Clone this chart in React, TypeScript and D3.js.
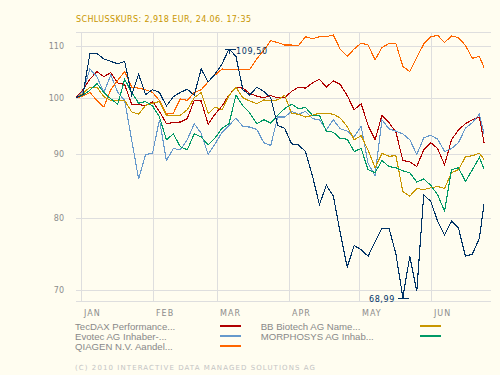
import React from "react";
import * as d3 from "d3";

const dates = [
  "2009-12-30", "2010-01-02", "2010-01-05", "2010-01-08", "2010-01-11", "2010-01-14", "2010-01-17", "2010-01-20",
  "2010-01-23", "2010-01-26", "2010-01-29", "2010-02-01", "2010-02-04", "2010-02-07", "2010-02-10", "2010-02-13",
  "2010-02-16", "2010-02-19", "2010-02-22", "2010-02-25", "2010-02-28", "2010-03-03", "2010-03-06", "2010-03-09",
  "2010-03-12", "2010-03-15", "2010-03-18", "2010-03-21", "2010-03-24", "2010-03-27", "2010-03-30", "2010-04-02",
  "2010-04-05", "2010-04-08", "2010-04-11", "2010-04-14", "2010-04-17", "2010-04-20", "2010-04-23", "2010-04-26",
  "2010-04-29", "2010-05-02", "2010-05-05", "2010-05-08", "2010-05-11", "2010-05-14", "2010-05-17", "2010-05-20",
  "2010-05-23", "2010-05-26", "2010-05-29", "2010-06-01", "2010-06-04", "2010-06-07", "2010-06-10", "2010-06-13",
  "2010-06-16", "2010-06-19", "2010-06-22", "2010-06-24",
];

const mainStock = [
  100, 100.6, 108.5, 108.6, 107.5, 107.0, 106.5, 107.0, 100.5, 104.5, 100.6, 101.5, 101.0, 98.5, 100.2, 101.0,
  101.6, 100.5, 105.5, 103.0, 104.5, 106.5, 109.5, 108.0, 101.5, 100.5, 102.0, 101.2, 100.0, 95.0, 94.5, 91.8,
  91.6, 90.5, 86.5, 82.0, 85.0, 83.3, 77.8, 73.0, 76.0, 75.4, 74.5, 76.5, 78.5, 78.5, 74.8, 68.99, 74.5, 69.8,
  83.5, 82.5, 79.5, 77.5, 79.5, 78.5, 74.5, 74.8, 77.0, 82.1,
];

const tecdax = [
  100, 101.5, 103.5, 105.0, 104.0, 104.8, 102.8, 102.5, 98.8, 98.8, 98.5, 99.3, 97.5, 95.3, 95.5, 95.6,
  96.2, 99.5, 99.4, 95.2, 97.0, 98.5, 100.5, 102.0, 101.8, 100.8, 100.3, 100.0, 100.4, 100.0, 100.0, 101.2,
  102.0, 101.8, 102.8, 103.5, 102.0, 103.2, 102.5, 100.4, 97.8, 98.9, 95.0, 92.5, 96.8, 95.5, 93.8, 89.0,
  88.8, 88.0, 90.8, 92.0, 91.0, 88.3, 92.5, 94.2, 95.3, 96.0, 96.5, 92.0,
];

const evotec = [
  100, 101.2, 105.5, 104.0, 101.0, 104.3, 101.0, 99.5, 92.5, 86.0, 90.0, 90.2, 96.0, 89.0, 91.0, 90.8,
  92.5, 95.3, 93.6, 90.0, 91.8, 93.8, 95.0, 96.3, 94.8, 94.7, 94.3, 92.0, 91.5, 96.5, 96.5, 97.5,
  97.0, 97.5, 96.2, 96.0, 94.2, 96.0, 94.4, 94.0, 93.0, 94.8, 88.5, 86.5, 96.0, 94.4, 94.0, 93.5,
  92.5, 90.0, 92.8, 93.3, 92.6, 90.5, 91.0, 92.0, 94.5, 95.5, 97.0, 93.5,
];

const qiagen = [
  100, 100.3, 101.0, 99.5, 98.3, 101.5, 103.3, 105.0, 102.0, 101.8, 101.5, 101.0, 99.5, 97.0, 97.2, 99.8,
  99.5, 101.0, 101.5, 103.0, 104.3, 105.5, 105.4, 105.4, 105.4, 105.4, 107.5, 109.2, 111.2, 110.8, 110.3, 110.3,
  110.2, 112.0, 111.6, 112.0, 112.0, 112.4, 109.4, 108.0, 109.5, 110.7, 110.3, 107.3, 109.8, 110.6, 110.6, 106.0,
  105.0, 107.8, 110.5, 112.0, 112.3, 110.8, 112.2, 111.8, 110.2, 107.6, 108.0, 105.8,
];

const bbBiotech = [
  100, 100.8, 102.0, 102.0, 100.2, 99.5, 99.5, 99.5, 97.4, 97.0, 98.6, 99.0, 99.3, 96.8, 96.8, 96.8,
  97.8, 100.0, 101.0, 97.1, 98.3, 97.8, 100.4, 102.0, 100.0, 99.4, 98.9, 99.6, 99.5, 99.6, 100.5, 97.1,
  97.0, 96.5, 96.8, 97.2, 97.1, 97.0, 96.3, 94.8, 92.5, 93.2, 90.7, 87.8, 90.2, 89.7, 89.8, 84.0,
  83.3, 84.5, 84.3, 84.6, 84.8, 84.5, 87.0, 87.5, 89.6, 89.8, 90.2, 89.2,
];

const morphosys = [
  100, 100.5, 101.4, 102.7, 101.0, 99.8, 98.8, 103.5, 101.0, 99.0, 99.3, 98.5, 96.5, 92.5, 93.5, 91.3,
  90.8, 93.5, 93.0, 91.6, 92.8, 94.5, 95.3, 100.5, 98.5, 97.2, 95.3, 96.0, 95.4, 96.8, 98.0, 98.8,
  98.0, 98.2, 96.8, 96.8, 94.0, 93.8, 92.7, 92.6, 90.5, 91.0, 87.5, 87.0, 89.0, 88.0, 87.8, 87.3,
  87.0, 85.5, 86.0, 85.0, 83.5, 81.0, 87.5, 87.8, 85.6, 87.5, 89.5, 87.6,
];

const yTicks = [70, 80, 90, 100, 110];
const monthStarts = ["2010-01-01", "2010-02-01", "2010-03-01", "2010-04-01", "2010-05-01", "2010-06-01"];
const monthLabels = ["JAN", "FEB", "MAR", "APR", "MAY", "JUN"];

const legendNames = [
  "TecDAX Performance...",
  "BB Biotech AG Name...",
  "Evotec AG Inhaber-...",
  "MORPHOSYS AG Inhab...",
  "QIAGEN N.V. Aandel...",
];
const legendColors = ["#b00000", "#c89600", "#6699cc", "#009966", "#ff6600"];
const legendSeries = [tecdax, bbBiotech, evotec, morphosys, qiagen];
const drawOrder = [0, 2, 4, 1, 3];

const mainColor = "#003366";
const titleText = "SCHLUSSKURS: 2,918 EUR, 24.06. 17:35";
const copyrightText = "(C) 2010 INTERACTIVE DATA MANAGED SOLUTIONS AG";

const parse = d3.timeParse("%Y-%m-%d");

export default function App() {
  const W = 500;
  const H = 375;
  const left = 76;
  const right = 491;
  const top = 32;
  const bottom = 301;

  const parsed = dates.map((d) => parse(d) as Date);
  const x = d3.scaleTime().domain([parsed[0], parsed[parsed.length - 1]]).range([76, 484]);
  const y = d3.scaleLog().domain([68.55, 113]).range([bottom, top]);

  const line = d3
    .line<number>()
    .x((_, i) => x(parsed[i]))
    .y((d) => y(d));

  const maxI = d3.maxIndex(mainStock);
  const minI = d3.minIndex(mainStock);
  const maxX = x(parsed[maxI]);
  const maxY = y(mainStock[maxI]);
  const minX = x(parsed[minI]);
  const minY = y(mainStock[minI]);
  const fmt = (v: number) => v.toFixed(2).replace(".", ",");

  const pixFont = "'DejaVu Sans', sans-serif";
  const grid = "#dedede";

  return (
    <svg
      width={W}
      height={H}
      style={{ position: "absolute", left: 0, top: 0, display: "block" }}
    >
      <rect x={0} y={0} width={W} height={H} fill="#fffdf0" />
      <text
        x={76}
        y={22}
        fontFamily={pixFont}
        fontSize={8}
        fill="#c89600"
        textLength={175}
        lengthAdjust="spacing"
      >
        {titleText}
      </text>

      {/* horizontal grid + frame */}
      <g shapeRendering="crispEdges" stroke={grid} strokeWidth={1}>
        <line x1={left} x2={right} y1={top + 0.5} y2={top + 0.5} />
        <line x1={left} x2={right} y1={bottom + 0.5} y2={bottom + 0.5} />
        {yTicks.map((t) => (
          <line key={t} x1={left} x2={right} y1={Math.round(y(t)) + 0.5} y2={Math.round(y(t)) + 0.5} />
        ))}
        {monthStarts.map((m) => {
          const gx = Math.round(x(parse(m) as Date)) + 0.5;
          return <line key={m} x1={gx} x2={gx} y1={top} y2={bottom + 1} />;
        })}
      </g>

      {yTicks.map((t) => (
        <text
          key={t}
          x={64}
          y={y(t)}
          dy="0.35em"
          textAnchor="end"
          fontFamily={pixFont}
          fontSize={8}
          fill="#8c8c8c"
        >
          {t}
        </text>
      ))}
      {monthStarts.map((m, i) => (
        <text
          key={m}
          x={Math.round(x(parse(m) as Date)) + 3}
          y={316}
          fontFamily={pixFont}
          fontSize={8}
          letterSpacing={1}
          fill="#8c8c8c"
        >
          {monthLabels[i]}
        </text>
      ))}

      {/* comparison series */}
      {drawOrder.map((i) => (
        <path
          key={legendNames[i]}
          d={line(legendSeries[i]) || ""}
          fill="none"
          stroke={legendColors[i]}
          strokeWidth={1.1}
          shapeRendering="crispEdges"
        />
      ))}
      <path
        d={line(mainStock) || ""}
        fill="none"
        stroke={mainColor}
        strokeWidth={1.1}
        shapeRendering="crispEdges"
      />

      {/* max marker */}
      <g stroke={mainColor} strokeWidth={1} shapeRendering="crispEdges">
        <line x1={maxX - 4} x2={maxX + 7} y1={Math.round(maxY) + 0.5} y2={Math.round(maxY) + 0.5} />
        <line x1={Math.round(maxX) + 0.5} x2={Math.round(maxX) + 0.5} y1={maxY} y2={maxY + 5} />
        <line x1={minX - 5} x2={minX + 6} y1={Math.round(minY) + 0.5} y2={Math.round(minY) + 0.5} />
        <line x1={Math.round(minX) + 0.5} x2={Math.round(minX) + 0.5} y1={minY - 6} y2={minY} />
      </g>
      <text x={maxX + 7} y={maxY + 5} fontFamily={pixFont} fontSize={8} letterSpacing={0.6} fill={mainColor}>
        {fmt(mainStock[maxI])}
      </text>
      <text
        x={minX - 8}
        y={minY + 4.5}
        textAnchor="end"
        fontFamily={pixFont}
        fontSize={8}
        letterSpacing={0.6}
        fill={mainColor}
      >
        {fmt(mainStock[minI])}
      </text>

      {/* legend */}
      {legendNames.map((name, i) => {
        const col = i % 2;
        const row = Math.floor(i / 2);
        const tx = col === 0 ? 75 : 260.7;
        const sx = col === 0 ? 220 : 420;
        const by = 330 + row * 10;
        return (
          <g key={name}>
            <text x={tx} y={by} fontFamily="'Liberation Sans', Arial, sans-serif" fontSize={9.6} fill="#888888">
              {name}
            </text>
            <line x1={sx} x2={sx + 21} y1={by - 4} y2={by - 4} stroke={legendColors[i]} strokeWidth={2} shapeRendering="crispEdges" />
          </g>
        );
      })}

      <text
        x={75}
        y={370}
        fontFamily={pixFont}
        fontSize={7}
        fill="#c4c4c4"
        textLength={240}
        lengthAdjust="spacing"
      >
        {copyrightText}
      </text>
    </svg>
  );
}
